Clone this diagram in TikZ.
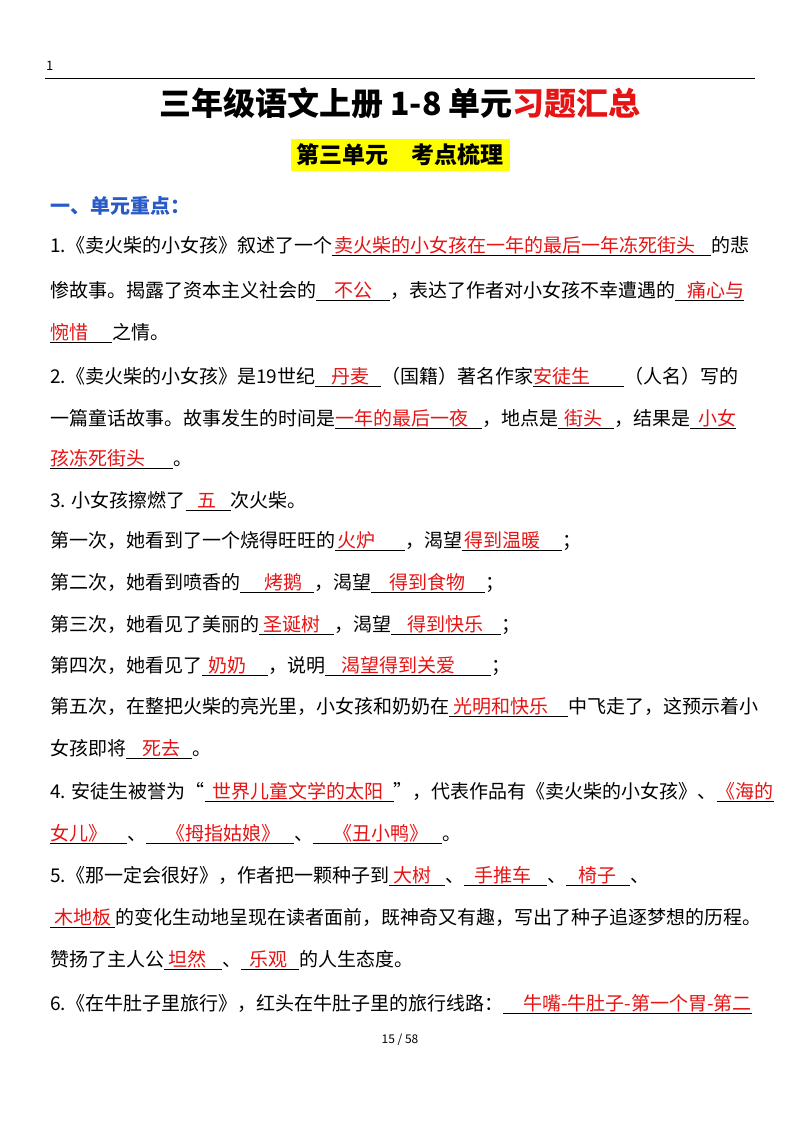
\documentclass[tikz,border=0pt]{standalone}
\usepackage{fontspec}
\setmainfont{Noto Sans CJK SC}
\definecolor{myred}{RGB}{230,20,20}
\definecolor{myblue}{RGB}{40,90,200}
\definecolor{myyellow}{RGB}{255,255,0}
\newcommand\bl[3]{$\underline{\hbox{\hspace{#1}\textcolor{myred}{#2}\hspace{#3}}}$}
\begin{document}
\begin{tikzpicture}[x=1pt,y=-1pt,
  body/.style={anchor=west,inner sep=0pt,font=\fontsize{19}{22}\selectfont},
]
\useasboundingbox (0,0) rectangle (800,1132);
\fill[white] (0,0) rectangle (800,1132);
\node[anchor=west,inner sep=0pt,font=\fontsize{13}{14}\selectfont] (pg) at (46,66) {1};
\draw[line width=0.8pt] (45,78) -- (755,78);
\node[inner sep=0pt,font=\fontsize{32}{36}\selectfont\bfseries] (title) at (400,103) {三年级语文上册 1-8 单元\textcolor{myred}{习题汇总}};
\node[fill=myyellow,inner xsep=6pt,inner ysep=5pt,font=\fontsize{23}{26}\selectfont\bfseries] (unit) at (400,155) {第三单元\quad 考点梳理};
\node[anchor=west,inner sep=0pt,text=myblue,font=\fontsize{20}{23}\selectfont\bfseries] (h1) at (50,206) {一、单元重点：};
\node[body] (l1) at (50,246) {1.《卖火柴的小女孩》叙述了一个\bl{2pt}{卖火柴的小女孩在一年的最后一年冻死街头}{16pt}的悲};
\node[body] (l2) at (50,291) {惨故事。揭露了资本主义社会的\bl{18pt}{不公}{18pt}，表达了作者对小女孩不幸遭遇的\bl{12pt}{痛心与}{0pt}};
\node[body] (l3) at (50,333) {\bl{0pt}{惋惜}{24pt}之情。};
\node[body] (l4) at (50,377) {2.《卖火柴的小女孩》是19世纪\bl{16pt}{丹麦}{12pt}（国籍）著名作家\bl{0pt}{安徒生}{34pt}（人名）写的};
\node[body] (l5) at (50,419) {一篇童话故事。故事发生的时间是\bl{0pt}{一年的最后一夜}{14pt}，地点是\bl{6pt}{街头}{12pt}，结果是\bl{8pt}{小女}{0pt}};
\node[body] (l6) at (50,459) {\bl{0pt}{孩冻死街头}{28pt}。};
\node[body] (l7) at (50,501) {3. 小女孩擦燃了\bl{12pt}{五}{14pt}次火柴。};
\node[body] (l8) at (50,541) {第一次，她看到了一个烧得旺旺的\bl{2pt}{火炉}{30pt}，渴望\bl{2pt}{得到温暖}{22pt}；};
\node[body] (l9) at (50,583) {第二次，她看到喷香的\bl{24pt}{烤鹅}{12pt}，渴望\bl{18pt}{得到食物}{20pt}；};
\node[body] (l10) at (50,625) {第三次，她看见了美丽的\bl{4pt}{圣诞树}{14pt}，渴望\bl{16pt}{得到快乐}{18pt}；};
\node[body] (l11) at (50,666) {第四次，她看见了\bl{6pt}{奶奶}{22pt}，说明\bl{16pt}{渴望得到关爱}{36pt}；};
\node[body] (l12) at (50,707) {第五次，在整把火柴的亮光里，小女孩和奶奶在\bl{4pt}{光明和快乐}{20pt}中飞走了，这预示着小};
\node[body] (l13) at (50,749) {女孩即将\bl{16pt}{死去}{12pt}。};
\node[body] (l14) at (50,792) {4. 安徒生被誉为“\bl{8pt}{世界儿童文学的太阳}{10pt}”，代表作品有《卖火柴的小女孩》、\bl{0pt}{《海的}{0pt}};
\node[body] (l15) at (50,834) {\bl{0pt}{女儿》}{20pt}、\bl{20pt}{《拇指姑娘》}{14pt}、\bl{20pt}{《丑小鸭》}{14pt}。};
\node[body] (l16) at (50,876) {5.《那一定会很好》，作者把一颗种子到\bl{4pt}{大树}{14pt}、\bl{10pt}{手推车}{16pt}、\bl{12pt}{椅子}{14pt}、};
\node[body] (l17) at (50,918) {\bl{4pt}{木地板}{4pt}的变化生动地呈现在读者面前，既神奇又有趣，写出了种子追逐梦想的历程。};
\node[body] (l18) at (50,960) {赞扬了主人公\bl{4pt}{坦然}{16pt}、\bl{8pt}{乐观}{12pt}的人生态度。};
\node[body] (l19) at (50,1004) {6.《在牛肚子里旅行》，红头在牛肚子里的旅行线路：\bl{20pt}{牛嘴-牛肚子-第一个胃-第二}{0pt}};
\node[inner sep=0pt,font=\fontsize{12}{13}\selectfont] (foot) at (400,1040) {15 / 58};
\end{tikzpicture}
\end{document}
